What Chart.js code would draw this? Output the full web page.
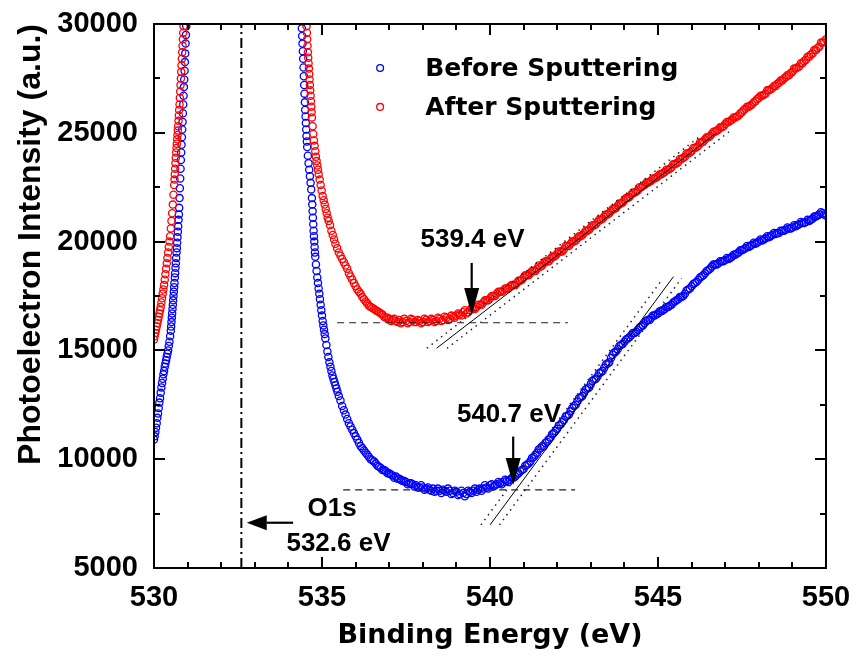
<!DOCTYPE html>
<html>
<head>
<meta charset="utf-8">
<script src="https://cdn.jsdelivr.net/npm/chart.js@4.4.0/dist/chart.umd.min.js"></script>
<style>
html,body{margin:0;padding:0;background:#fff;overflow:hidden;}
#wrap{width:859px;height:658px;position:relative;}
canvas{display:block;}
</style>
</head>
<body>
<div id="wrap"><canvas id="c"></canvas></div>
<script>
// ---------------- data ----------------
const seriesNames = ['Before Sputtering', 'After Sputtering'];

const beforeEnergy = [
530.00,530.02,530.04,530.06,530.08,530.10,530.12,530.14,530.16,530.18,530.20,530.22,530.24,530.26,530.28,530.30,530.32,530.34,530.36,530.38,530.40,530.42,530.44,530.46,530.48,530.50,
530.51,530.52,530.53,530.54,530.55,530.56,530.57,530.58,530.59,530.60,
530.61,530.62,530.63,530.64,530.65,530.66,530.67,530.68,530.69,530.70,
530.71,530.72,530.73,530.74,530.75,530.76,530.77,530.78,530.79,530.80,
530.81,530.82,530.83,530.84,530.85,530.86,530.87,530.88,530.89,530.90,
530.91,530.92,530.93,530.94,530.95,530.96,530.97,
534.39,534.40,534.41,534.42,534.43,534.44,534.45,534.46,534.47,534.48,534.49,534.50,534.51,534.52,534.53,534.54,534.55,534.56,534.58,534.60,
534.62,534.64,534.66,534.68,534.70,534.71,534.72,534.73,534.74,534.75,534.76,534.77,534.78,534.79,534.80,534.82,534.84,534.86,534.88,534.90,
534.92,534.94,534.96,534.98,535.00,535.02,535.04,535.06,535.08,535.10,535.13,535.16,535.19,535.22,535.25,535.28,535.31,535.34,535.37,535.40,
535.43,535.46,535.50,535.55,535.60,535.65,535.70,535.75,535.80,535.85,535.90,535.95,536.00,536.05,536.10,536.15,536.20,536.25,536.30,536.35,536.40,536.45,
536.50,536.55,536.60,536.65,536.70,536.75,536.80,536.85,536.90,536.95,
537.00,537.05,537.10,537.15,537.20,537.25,537.30,537.35,537.40,537.45,537.50,537.55,537.60,537.65,537.70,537.75,537.80,537.85,537.90,537.95,
538.00,538.05,538.10,538.15,538.20,538.25,538.30,538.35,538.40,538.45,538.50,538.55,538.60,538.65,538.70,538.75,538.80,538.85,538.90,538.95,
539.00,539.05,539.10,539.15,539.20,539.25,539.30,539.35,539.40,539.45,539.50,539.55,539.60,539.65,539.70,539.75,539.80,539.85,539.90,539.95,
540.00,540.05,540.10,540.15,540.20,540.25,540.30,540.35,540.40,540.45,540.50,540.55,540.60,540.65,540.70,540.75,540.80,540.85,540.90,540.95,
541.00,541.05,541.10,541.15,541.20,541.25,541.30,541.35,541.40,541.45,541.50,541.55,541.60,541.65,541.70,541.75,541.80,541.85,541.90,541.95,
542.00,542.05,542.10,542.15,542.20,542.25,542.30,542.35,542.40,542.45,542.50,542.55,542.60,542.65,542.70,542.75,542.80,542.85,542.90,542.95,
543.00,543.05,543.10,543.15,543.20,543.25,543.30,543.35,543.40,543.45,543.50,543.55,543.60,543.65,543.70,543.75,543.80,543.85,543.90,543.95,
544.00,544.05,544.10,544.15,544.20,544.25,544.30,544.35,544.40,544.45,544.50,544.55,544.60,544.65,544.70,544.75,544.80,544.85,544.90,544.95,
545.00,545.05,545.10,545.15,545.20,545.25,545.30,545.35,545.40,545.45,545.50,545.55,545.60,545.65,545.70,545.75,545.80,545.85,545.90,545.95,
546.00,546.05,546.10,546.15,546.20,546.25,546.30,546.35,546.40,546.45,546.50,546.55,546.60,546.65,546.70,546.75,546.80,546.85,546.90,546.95,
547.00,547.05,547.10,547.15,547.20,547.25,547.30,547.35,547.40,547.45,547.50,547.55,547.60,547.65,547.70,547.75,547.80,547.85,547.90,547.95,
548.00,548.05,548.10,548.15,548.20,548.25,548.30,548.35,548.40,548.45,548.50,548.55,548.60,548.65,548.70,548.75,548.80,548.85,548.90,548.95,
549.00,549.05,549.10,549.15,549.20,549.25,549.30,549.35,549.40,549.45,549.50,549.55,549.60,549.65,549.70,549.75,549.80,549.85,549.90,549.95,
550.00
];
const beforeCounts = [
10900,11050,11250,11450,11650,11900,12100,12350,12600,12800,13050,13300,13500,13700,13900,14050,14250,14400,14550,14700,14850,15000,15200,15400,15650,15900,
16100,16300,16500,16700,16900,17100,17300,17500,17700,17900,
18100,18350,18550,18800,19000,19250,19500,19700,19950,20200,
20450,20700,21000,21250,21550,22000,22450,22900,23350,23750,
24100,24450,24800,25150,25500,25900,26300,26700,27100,27450,
27850,28250,28650,29100,29500,29900,30300,
30200,29800,29450,29100,28750,28400,28000,27600,27200,26800,26400,26050,25750,25450,25150,24850,24600,24350,23950,23600,
23300,23000,22700,22400,22000,21700,21400,21100,20800,20500,20250,20000,19750,19500,19300,18950,18650,18350,18100,17850,
17600,17350,17100,16850,16600,16350,16150,15950,15750,15550,15250,14950,14700,14450,14250,14050,13850,13700,13550,13400,
13250,13100,12900,12700,12450,12250,12050,11850,11650,11500,11350,11200,11050,10900,10750,10600,10500,10400,10300,10200,10100,10000,
9950,9900,9800,9700,9650,9600,9500,9500,9450,9350,
9350,9300,9250,9150,9200,9100,9100,9050,9000,9000,8950,8850,8900,8900,8850,8750,8800,8700,8700,8800,
8700,8600,8650,8700,8600,8550,8650,8500,8550,8650,8550,8450,8600,8550,8500,8650,8550,8400,8450,8550,
8500,8350,8400,8550,8450,8300,8400,8550,8500,8450,8550,8650,8500,8600,8650,8550,8650,8800,8700,8650,
8800,8850,8750,8800,8850,8950,8900,8850,8950,9050,9000,8950,9050,9150,9150,9200,9300,9350,9450,9500,
9550,9700,9750,9800,9900,10050,10100,10200,10300,10450,10500,10600,10600,10750,10800,10900,11000,11150,11200,11300,
11400,11550,11600,11700,11800,11950,12000,12050,12200,12350,12450,12500,12650,12800,12850,12900,13050,13200,13250,13300,
13450,13600,13650,13700,13800,13950,14000,14050,14200,14350,14400,14450,14650,14800,14900,14950,15050,15200,15250,15300,
15400,15500,15550,15600,15700,15800,15800,15850,15950,16050,16100,16150,16250,16350,16400,16400,16500,16600,16600,16650,
16700,16800,16800,16850,16900,17000,17000,17050,17100,17200,17250,17300,17350,17450,17450,17500,17600,17750,17800,17850,
17950,18050,18100,18150,18250,18350,18400,18450,18550,18650,18700,18750,18850,18950,18950,18950,19000,19100,19100,19100,
19150,19250,19200,19250,19300,19400,19400,19450,19500,19600,19600,19650,19700,19800,19750,19800,19850,19950,19900,19950,
20000,20100,20050,20100,20150,20250,20200,20250,20300,20400,20350,20400,20400,20500,20500,20500,20550,20650,20600,20600,
20650,20750,20700,20750,20800,20900,20850,20850,20900,21000,20950,21000,21050,21150,21150,21200,21250,21350,21300,21250,
21200
];

const afterEnergy = [
530.00,530.02,530.04,530.06,530.08,530.10,530.12,530.14,530.16,530.18,530.20,530.22,530.24,530.26,530.28,530.30,530.32,530.34,530.36,530.38,530.40,530.42,530.44,530.46,530.48,530.50,530.52,530.54,530.56,530.58,530.60,
530.61,530.62,530.63,530.64,530.65,530.66,530.67,530.68,530.69,530.70,
530.71,530.72,530.73,530.74,530.75,530.76,530.77,530.78,530.79,530.80,
530.81,530.82,530.83,530.84,530.85,530.86,530.87,530.88,530.89,
534.53,534.54,534.55,534.56,534.57,534.58,534.59,534.60,534.61,534.62,534.63,534.64,534.65,534.66,534.67,534.68,534.69,534.70,534.72,534.74,
534.76,534.78,534.80,534.82,534.84,534.86,534.88,534.90,534.93,534.96,534.99,535.02,535.05,535.08,535.11,535.14,535.17,535.20,535.24,535.28,
535.32,535.36,535.40,535.45,535.50,535.55,535.60,535.65,535.70,535.75,535.80,535.85,535.90,535.95,536.00,536.05,536.10,536.15,536.20,536.25,
536.30,536.35,536.40,536.45,
536.50,536.55,536.60,536.65,536.70,536.75,536.80,536.85,536.90,536.95,
537.00,537.05,537.10,537.15,537.20,537.25,537.30,537.35,537.40,537.45,537.50,537.55,537.60,537.65,537.70,537.75,537.80,537.85,537.90,537.95,
538.00,538.05,538.10,538.15,538.20,538.25,538.30,538.35,538.40,538.45,538.50,538.55,538.60,538.65,538.70,538.75,538.80,538.85,538.90,538.95,
539.00,539.05,539.10,539.15,539.20,539.25,539.30,539.35,539.40,539.45,539.50,539.55,539.60,539.65,539.70,539.75,539.80,539.85,539.90,539.95,
540.00,540.05,540.10,540.15,540.20,540.25,540.30,540.35,540.40,540.45,540.50,540.55,540.60,540.65,540.70,540.75,540.80,540.85,540.90,540.95,
541.00,541.05,541.10,541.15,541.20,541.25,541.30,541.35,541.40,541.45,541.50,541.55,541.60,541.65,541.70,541.75,541.80,541.85,541.90,541.95,
542.00,542.05,542.10,542.15,542.20,542.25,542.30,542.35,542.40,542.45,542.50,542.55,542.60,542.65,542.70,542.75,542.80,542.85,542.90,542.95,
543.00,543.05,543.10,543.15,543.20,543.25,543.30,543.35,543.40,543.45,543.50,543.55,543.60,543.65,543.70,543.75,543.80,543.85,543.90,543.95,
544.00,544.05,544.10,544.15,544.20,544.25,544.30,544.35,544.40,544.45,544.50,544.55,544.60,544.65,544.70,544.75,544.80,544.85,544.90,544.95,
545.00,545.05,545.10,545.15,545.20,545.25,545.30,545.35,545.40,545.45,545.50,545.55,545.60,545.65,545.70,545.75,545.80,545.85,545.90,545.95,
546.00,546.05,546.10,546.15,546.20,546.25,546.30,546.35,546.40,546.45,546.50,546.55,546.60,546.65,546.70,546.75,546.80,546.85,546.90,546.95,
547.00,547.05,547.10,547.15,547.20,547.25,547.30,547.35,547.40,547.45,547.50,547.55,547.60,547.65,547.70,547.75,547.80,547.85,547.90,547.95,
548.00,548.05,548.10,548.15,548.20,548.25,548.30,548.35,548.40,548.45,548.50,548.55,548.60,548.65,548.70,548.75,548.80,548.85,548.90,548.95,
549.00,549.05,549.10,549.15,549.20,549.25,549.30,549.35,549.40,549.45,549.50,549.55,549.60,549.65,549.70,549.75,549.80,549.85,549.90,549.95,
550.00
];
const afterCounts = [
15500,15650,15800,15950,16100,16250,16400,16550,16700,16850,17000,17200,17400,17600,17800,18000,18250,18500,18750,19000,19250,19500,19750,20000,20250,20600,20950,21300,21700,22150,22600,
22850,23100,23350,23600,23850,24100,24300,24500,24700,24900,
25100,25300,25550,25800,26050,26300,26600,26900,27200,27500,
27800,28100,28400,28700,29000,29300,29600,29900,30200,
30200,29900,29600,29300,29000,28700,28450,28200,27950,27700,27450,27200,26950,26700,26450,26200,25950,25700,25300,24950,
24650,24400,24150,23900,23700,23500,23300,23100,22850,22600,22350,22100,21900,21700,21500,21300,21100,20950,20750,20500,
20300,20100,19900,19700,19500,19350,19200,19050,18900,18750,18550,18400,18250,18100,17950,17800,17700,17600,17450,17350,
17250,17150,17050,17000,
16950,16900,16850,16800,16750,16700,16650,16550,16500,16500,
16450,16350,16400,16450,16350,16300,16400,16250,16300,16450,16350,16250,16300,16450,16400,16300,16300,16400,16350,16250,
16300,16450,16400,16300,16350,16450,16400,16300,16350,16500,16450,16350,16400,16550,16500,16400,16450,16600,16550,16500,
16600,16700,16650,16600,16750,16850,16700,16750,16850,16950,16900,16900,17000,17100,17100,17100,17200,17300,17300,17300,
17400,17500,17500,17500,17600,17700,17700,17700,17750,17850,17850,17850,17950,18000,18000,18000,18100,18200,18200,18250,
18350,18450,18450,18450,18550,18650,18650,18650,18750,18900,18850,18900,19000,19100,19100,19100,19200,19300,19300,19350,
19450,19550,19550,19550,19650,19800,19800,19800,19900,20000,20000,20050,20150,20250,20250,20300,20400,20500,20500,20550,
20650,20750,20750,20800,20900,21000,21000,21050,21150,21250,21250,21300,21400,21500,21500,21550,21650,21750,21750,21800,
21900,22000,22000,22050,22150,22250,22250,22300,22350,22500,22500,22550,22600,22700,22700,22750,22800,22900,22900,22950,
23000,23100,23100,23150,23200,23300,23300,23350,23400,23550,23550,23600,23650,23800,23800,23850,23900,24050,24050,24100,
24150,24300,24300,24350,24400,24550,24550,24600,24700,24800,24800,24850,24950,25050,25050,25100,25150,25250,25250,25300,
25400,25500,25500,25550,25600,25700,25700,25750,25800,25900,25950,26050,26100,26200,26200,26250,26300,26400,26450,26550,
26600,26700,26700,26750,26800,26950,26950,27000,27050,27150,27150,27250,27300,27400,27400,27500,27550,27650,27650,27750,
27800,27950,27950,28000,28050,28200,28200,28300,28350,28500,28500,28600,28650,28800,28800,28900,28950,29150,29150,29200,
29300
];

// axis ticks
const xTickValues = [530, 535, 540, 545, 550];
const xTickLabels = ['530', '535', '540', '545', '550'];
const yTickValues = [5000, 10000, 15000, 20000, 25000, 30000];
const yTickLabels = ['5000', '10000', '15000', '20000', '25000', '30000'];

// analysis overlays (energies in eV, intensities in a.u.)
const o1sEnergy = 532.6;
const afterBaseline = {E: [535.45, 542.32], I: [16270, 16270]};
const beforeBaseline = {E: [535.63, 542.53], I: [8590, 8590]};
const afterTangent = {E: [538.41, 546.70], I: [15100, 24950]};
const afterBandLow = {E: [538.12, 546.30], I: [15100, 24900]};
const afterBandHigh = {E: [538.72, 547.12], I: [15100, 25050]};
const beforeTangent = {E: [540.00, 545.46], I: [6980, 18390]};
const beforeBandLow = {E: [539.73, 545.12], I: [6980, 18250]};
const beforeBandHigh = {E: [540.28, 545.70], I: [6980, 18310]};

const annotationTexts = [
  {text: '539.4 eV', E: 539.48, I: 20120},
  {text: '540.7 eV', E: 540.565, I: 12080},
  {text: 'O1s', E: 535.30, I: 7760},
  {text: '532.6 eV', E: 535.49, I: 6170}
];
const arrows = [
  {E1: 539.455, I1: 19020, E2: 539.455, I2: 16630},
  {E1: 540.69, I1: 11040, E2: 540.69, I2: 8815},
  {E1: 534.14, I1: 7080, E2: 532.76, I2: 7080}
];
const legendPos = {markerE: 536.73, textE: 538.07, rows: [27980, 26190]};

// ---------------- chart ----------------
const FONT = '"Liberation Sans", Arial, sans-serif';
const FONT2 = '"DejaVu Sans", sans-serif';

function pts(E, I) { return E.map((e, i) => ({x: e, y: I[i]})); }
function lineDs(obj, opts) {
  return Object.assign({
    type: 'scatter', data: pts(obj.E, obj.I), showLine: true, pointRadius: 0,
    borderColor: '#000', borderWidth: 1, fill: false, tension: 0, order: 0, clip: 0
  }, opts);
}

const datasets = [
  {label: seriesNames[0], data: pts(beforeEnergy, beforeCounts), pointRadius: 3.6, pointBorderWidth: 1.3,
   pointBorderColor: '#0000ff', pointBackgroundColor: 'rgba(0,0,0,0)', borderColor: '#0000ff', showLine: false, order: 2, clip: 0},
  {label: seriesNames[1], data: pts(afterEnergy, afterCounts), pointRadius: 3.6, pointBorderWidth: 1.3,
   pointBorderColor: '#ff0000', pointBackgroundColor: 'rgba(0,0,0,0)', borderColor: '#ff0000', showLine: false, order: 1, clip: 0},
  lineDs(afterBaseline, {borderColor: '#222', borderDash: [7, 5], borderWidth: 1.2}),
  lineDs(beforeBaseline, {borderColor: '#222', borderDash: [7, 5], borderWidth: 1.2}),
  lineDs(afterTangent, {}),
  lineDs(beforeTangent, {}),
  lineDs(afterBandLow, {borderDash: [1.5, 4.5], borderWidth: 1.5, borderColor: '#222'}),
  lineDs(afterBandHigh, {borderDash: [1.5, 4.5], borderWidth: 1.5, borderColor: '#222'}),
  lineDs(beforeBandLow, {borderDash: [1.5, 4.5], borderWidth: 1.5, borderColor: '#222'}),
  lineDs(beforeBandHigh, {borderDash: [1.5, 4.5], borderWidth: 1.5, borderColor: '#222'}),
  lineDs({E: [o1sEnergy, o1sEnergy], I: [yTickValues[0], yTickValues[yTickValues.length - 1]]},
         {borderDash: [10, 4, 2, 4], borderWidth: 2})
];

const decor = {
  id: 'decor',
  afterDatasetsDraw(chart) {
    const {ctx, chartArea: a, scales: {x, y}} = chart;
    ctx.save();
    ctx.strokeStyle = '#000';
    ctx.fillStyle = '#000';
    // frame
    ctx.lineWidth = 2;
    ctx.strokeRect(a.left, a.top, a.right - a.left, a.bottom - a.top);
    // inward ticks (major + minor) on all four sides
    ctx.beginPath();
    const nx = Math.round(x.max - x.min);
    for (let i = 0; i <= nx; i++) {
      const v = x.min + i;
      const px = Math.round(x.getPixelForValue(v));
      const len = xTickValues.includes(v) ? 11 : 6;
      ctx.moveTo(px, a.bottom); ctx.lineTo(px, a.bottom - len);
      ctx.moveTo(px, a.top); ctx.lineTo(px, a.top + len);
    }
    const ny = Math.round((y.max - y.min) / 2500);
    for (let i = 0; i <= ny; i++) {
      const v = y.min + i * 2500;
      const py = Math.round(y.getPixelForValue(v));
      const len = yTickValues.includes(v) ? 11 : 6;
      ctx.moveTo(a.left, py); ctx.lineTo(a.left + len, py);
      ctx.moveTo(a.right, py); ctx.lineTo(a.right - len, py);
    }
    ctx.stroke();
    // arrows
    arrows.forEach(ar => {
      const x1 = x.getPixelForValue(ar.E1), y1 = y.getPixelForValue(ar.I1);
      const x2 = x.getPixelForValue(ar.E2), y2 = y.getPixelForValue(ar.I2);
      const ang = Math.atan2(y2 - y1, x2 - x1);
      const vertical = Math.abs(x2 - x1) < 1;
      const hl = vertical ? 27 : 20, hw = 7.5;
      const bx = x2 - hl * Math.cos(ang), by = y2 - hl * Math.sin(ang);
      ctx.lineWidth = 2.2;
      ctx.beginPath(); ctx.moveTo(x1, y1); ctx.lineTo(bx, by); ctx.stroke();
      ctx.beginPath();
      ctx.moveTo(x2, y2);
      ctx.lineTo(bx + hw * Math.sin(ang), by - hw * Math.cos(ang));
      ctx.lineTo(bx - hw * Math.sin(ang), by + hw * Math.cos(ang));
      ctx.closePath(); ctx.fill();
    });
    // annotation texts
    ctx.font = 'bold 26px ' + FONT;
    ctx.textAlign = 'center';
    ctx.textBaseline = 'middle';
    annotationTexts.forEach(t => {
      ctx.fillText(t.text, x.getPixelForValue(t.E), y.getPixelForValue(t.I) + 1);
    });
    // legend
    ctx.font = 'bold 25px ' + FONT2;
    ctx.textAlign = 'left';
    chart.data.datasets.slice(0, 2).forEach((ds, i) => {
      const mx = x.getPixelForValue(legendPos.markerE);
      const my = y.getPixelForValue(legendPos.rows[i]);
      ctx.beginPath();
      ctx.lineWidth = 1.3;
      ctx.strokeStyle = ds.pointBorderColor;
      ctx.arc(mx, my, 3.4, 0, Math.PI * 2);
      ctx.stroke();
      ctx.fillStyle = '#000';
      ctx.fillText(ds.label, x.getPixelForValue(legendPos.textE), my + 2);
    });
    ctx.restore();
  }
};

function noAutoPad(s) {
  s.paddingTop = 0; s.paddingBottom = 0; s.paddingLeft = 0; s.paddingRight = 0;
}

new Chart(document.getElementById('c'), {
  type: 'scatter',
  data: {datasets},
  options: {
    responsive: true,
    maintainAspectRatio: false,
    animation: false,
    events: [],
    layout: {autoPadding: false, padding: {top: 24, right: 33, left: 0, bottom: 0}},
    plugins: {legend: {display: false}, tooltip: {enabled: false}},
    scales: {
      x: {
        type: 'linear', min: 530, max: 550,
        afterBuildTicks: s => { s.ticks = xTickValues.map(v => ({value: v})); },
        afterFit: s => { s.height = 90; noAutoPad(s); },
        grid: {display: false, drawTicks: false},
        border: {display: false},
        ticks: {
          color: '#000', padding: 13, maxRotation: 0, autoSkip: false,
          font: {family: FONT, size: 29, weight: 'bold'},
          callback: (v) => xTickLabels[xTickValues.indexOf(v)]
        },
        title: {display: true, text: 'Binding Energy (eV)', color: '#000',
          font: {family: FONT2, size: 27, weight: 'bold'}, padding: {top: 0, bottom: 6}}
      },
      y: {
        type: 'linear', min: 5000, max: 30000,
        afterBuildTicks: s => { s.ticks = yTickValues.map(v => ({value: v})); },
        afterFit: s => { s.width = 154; noAutoPad(s); },
        grid: {display: false, drawTicks: false},
        border: {display: false},
        ticks: {
          color: '#000', padding: 16, autoSkip: false,
          font: {family: FONT, size: 29, weight: 'bold'},
          callback: (v) => yTickLabels[yTickValues.indexOf(v)]
        },
        title: {display: true, text: 'Photoelectron Intensity (a.u.)', color: '#000', align: 'end',
          font: {family: FONT, size: 32, weight: 'bold'}, padding: {top: 12, bottom: 0}}
      }
    }
  },
  plugins: [decor]
});
</script>
</body>
</html>
